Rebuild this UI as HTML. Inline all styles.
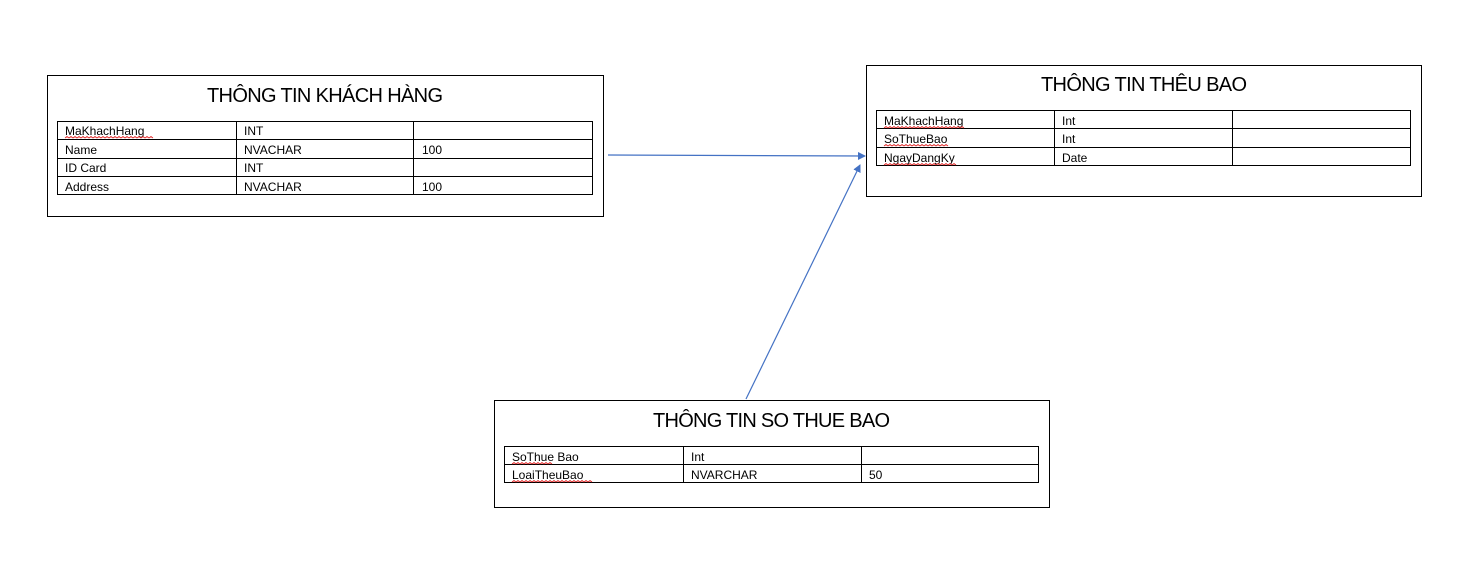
<!DOCTYPE html>
<html><head><meta charset="utf-8"><style>
html,body{margin:0;padding:0;background:#fff;width:1462px;height:580px;overflow:hidden}
svg{display:block}
text{font-family:"Liberation Sans",sans-serif;fill:#000}
.c{font-size:12px}
.t{font-size:20px}
</style></head><body>
<svg width="1462" height="580" viewBox="0 0 1462 580">
<defs><marker id="a" markerWidth="8" markerHeight="8" refX="7" refY="4" orient="auto" markerUnits="userSpaceOnUse"><path d="M0,0 L8,4 L0,8 z" fill="#4472C4"/></marker></defs>
<g fill="none" stroke="#000" stroke-width="1">
<rect x="47.5" y="75.5" width="556" height="141"/>
<rect x="57.5" y="121.5" width="535" height="73"/>
<line x1="57" y1="139.5" x2="593" y2="139.5"/><line x1="57" y1="158.5" x2="593" y2="158.5"/><line x1="57" y1="176.5" x2="593" y2="176.5"/>
<line x1="236.5" y1="121" x2="236.5" y2="195"/><line x1="413.5" y1="121" x2="413.5" y2="195"/>
<rect x="866.5" y="65.5" width="555" height="131"/>
<rect x="876.5" y="110.5" width="534" height="55"/>
<line x1="876" y1="128.5" x2="1411" y2="128.5"/><line x1="876" y1="147.5" x2="1411" y2="147.5"/>
<line x1="1054.5" y1="110" x2="1054.5" y2="166"/><line x1="1232.5" y1="110" x2="1232.5" y2="166"/>
<rect x="494.5" y="400.5" width="555" height="107"/>
<rect x="504.5" y="446.5" width="534" height="36"/>
<line x1="504" y1="464.5" x2="1039" y2="464.5"/>
<line x1="683.5" y1="446" x2="683.5" y2="483"/><line x1="861.5" y1="446" x2="861.5" y2="483"/>
</g>
<g stroke="#4472C4" stroke-width="1.2" fill="none">
<line x1="608" y1="155" x2="865" y2="156" marker-end="url(#a)"/>
<line x1="746" y1="399" x2="860" y2="165" marker-end="url(#a)"/>
</g>
<text class="t" x="207" y="102" textLength="236">THÔNG TIN KHÁCH HÀNG</text>
<text class="c" x="65" y="135">MaKhachHang</text><text class="c" x="244" y="135">INT</text>
<text class="c" x="65" y="154">Name</text><text class="c" x="244" y="154">NVACHAR</text><text class="c" x="422" y="154">100</text>
<text class="c" x="65" y="172">ID Card</text><text class="c" x="244" y="172">INT</text>
<text class="c" x="65" y="191">Address</text><text class="c" x="244" y="191">NVACHAR</text><text class="c" x="422" y="191">100</text>
<text class="t" x="1041" y="91" textLength="206">THÔNG TIN THÊU BAO</text>
<text class="c" x="884" y="125">MaKhachHang</text><text class="c" x="1062" y="125">Int</text>
<text class="c" x="884" y="143">SoThueBao</text><text class="c" x="1062" y="143">Int</text>
<text class="c" x="884" y="162">NgayDangKy</text><text class="c" x="1062" y="162">Date</text>
<text class="t" x="653" y="427" textLength="237">THÔNG TIN SO THUE BAO</text>
<text class="c" x="512" y="461">SoThue Bao</text><text class="c" x="691" y="461">Int</text>
<text class="c" x="512" y="479">LoaiTheuBao</text><text class="c" x="691" y="479">NVARCHAR</text><text class="c" x="869" y="479">50</text>
<g stroke="#e02020" stroke-width="0.8" fill="none">
<path d="M65 138 l2 -1.5 2 1.5 2 -1.5 2 1.5 2 -1.5 2 1.5 2 -1.5 2 1.5 2 -1.5 2 1.5 2 -1.5 2 1.5 2 -1.5 2 1.5 2 -1.5 2 1.5 2 -1.5 2 1.5 2 -1.5 2 1.5 2 -1.5 2 1.5 2 -1.5 2 1.5 2 -1.5 2 1.5 2 -1.5 2 1.5 2 -1.5 2 1.5 2 -1.5 2 1.5 2 -1.5 2 1.5 2 -1.5 2 1.5 2 -1.5 2 1.5 2 -1.5 2 1.5 2 -1.5 2 1.5 2 -1.5 2 1.5"/>
<path d="M884 128 l2 -1.5 2 1.5 2 -1.5 2 1.5 2 -1.5 2 1.5 2 -1.5 2 1.5 2 -1.5 2 1.5 2 -1.5 2 1.5 2 -1.5 2 1.5 2 -1.5 2 1.5 2 -1.5 2 1.5 2 -1.5 2 1.5 2 -1.5 2 1.5 2 -1.5 2 1.5 2 -1.5 2 1.5 2 -1.5 2 1.5 2 -1.5 2 1.5 2 -1.5 2 1.5 2 -1.5 2 1.5 2 -1.5 2 1.5 2 -1.5 2 1.5 2 -1.5 2 1.5"/>
<path d="M884 146 l2 -1.5 2 1.5 2 -1.5 2 1.5 2 -1.5 2 1.5 2 -1.5 2 1.5 2 -1.5 2 1.5 2 -1.5 2 1.5 2 -1.5 2 1.5 2 -1.5 2 1.5 2 -1.5 2 1.5 2 -1.5 2 1.5 2 -1.5 2 1.5 2 -1.5 2 1.5 2 -1.5 2 1.5 2 -1.5 2 1.5 2 -1.5 2 1.5 2 -1.5 2 1.5"/>
<path d="M884 165 l2 -1.5 2 1.5 2 -1.5 2 1.5 2 -1.5 2 1.5 2 -1.5 2 1.5 2 -1.5 2 1.5 2 -1.5 2 1.5 2 -1.5 2 1.5 2 -1.5 2 1.5 2 -1.5 2 1.5 2 -1.5 2 1.5 2 -1.5 2 1.5 2 -1.5 2 1.5 2 -1.5 2 1.5 2 -1.5 2 1.5 2 -1.5 2 1.5 2 -1.5 2 1.5 2 -1.5 2 1.5 2 -1.5 2 1.5"/>
<path d="M512 464 l2 -1.5 2 1.5 2 -1.5 2 1.5 2 -1.5 2 1.5 2 -1.5 2 1.5 2 -1.5 2 1.5 2 -1.5 2 1.5 2 -1.5 2 1.5 2 -1.5 2 1.5 2 -1.5 2 1.5 2 -1.5 2 1.5"/>
<path d="M512 482 l2 -1.5 2 1.5 2 -1.5 2 1.5 2 -1.5 2 1.5 2 -1.5 2 1.5 2 -1.5 2 1.5 2 -1.5 2 1.5 2 -1.5 2 1.5 2 -1.5 2 1.5 2 -1.5 2 1.5 2 -1.5 2 1.5 2 -1.5 2 1.5 2 -1.5 2 1.5 2 -1.5 2 1.5 2 -1.5 2 1.5 2 -1.5 2 1.5 2 -1.5 2 1.5 2 -1.5 2 1.5 2 -1.5 2 1.5 2 -1.5 2 1.5 2 -1.5 2 1.5"/>
</g>
</svg>
</body></html>
